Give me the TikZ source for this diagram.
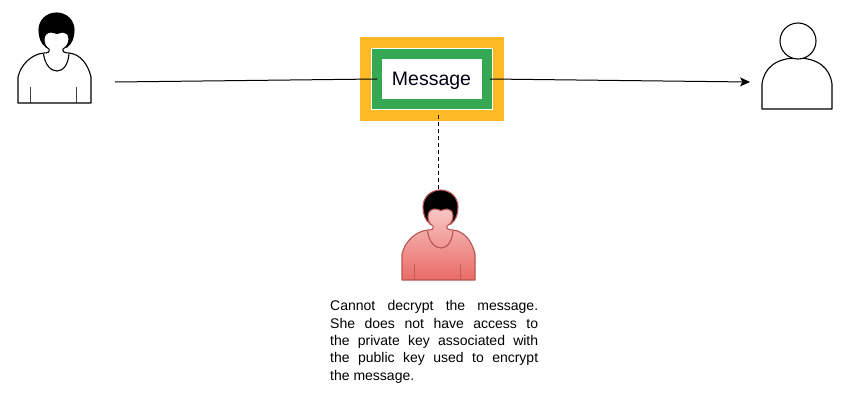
\documentclass[tikz,border=0pt]{standalone}
\usepackage{fontspec}
\setmainfont{Liberation Sans}
\usetikzlibrary{arrows.meta}
\definecolor{orangebox}{HTML}{FFB925}
\definecolor{greenbox}{HTML}{34A853}
\definecolor{eveedge}{HTML}{B85450}
\definecolor{evetop}{HTML}{F7C6C4}
\definecolor{evebottom}{HTML}{EA6B66}
\tikzset{
  x=1pt,y=-1pt,
  personline/.style={line width=1.1pt,line join=round},
  plainfill/.style={fill=white},
  evefill/.style={top color=evetop,bottom color=evebottom},
  connector/.style={line width=1pt,black},
  notetext/.style={font=\fontsize{14}{17.3}\selectfont,align=left,inner sep=0pt,anchor=north west},
  pics/woman/.style 2 args={code={
    \draw[personline,draw=#1,fill=black] (46,47) .. controls (41,43) and (39,37) .. (39,30)
      .. controls (39,20) and (47,13) .. (56.5,13) .. controls (66,13) and (74,20) .. (74,30)
      .. controls (74,37) and (72,43) .. (67,47) -- cycle;
    \path[personline,draw=#1,#2] (18,103) -- (18,77) .. controls (21,64) and (32,54) .. (44,53)
      .. controls (48,53) and (50,52) .. (49,49) .. controls (45,47) and (44,43) .. (44,39)
      .. controls (44,34) and (48,32) .. (51,32) .. controls (53,32) and (55,33) .. (57,33.5)
      .. controls (59,33) and (61,32) .. (63,32) .. controls (66,32) and (69,34) .. (69,39)
      .. controls (69,43) and (67,47) .. (63,49) .. controls (62,52) and (65,53) .. (69,53)
      .. controls (80,54) and (88,64) .. (91,77) -- (91,103) -- cycle;
    \draw[personline,draw=#1] (43.5,54) .. controls (45,65) and (51,71) .. (57,71) .. controls (63,71) and (68,65) .. (69,54);
    \draw[line width=.9pt,draw=#1,opacity=.75] (30,87) -- (30,103);
    \draw[line width=.9pt,draw=#1,opacity=.75] (76,87) -- (76,103);
  }},
}
\begin{document}
\begin{tikzpicture}
\useasboundingbox (0,0) rectangle (862,413);
\fill[white] (0,0) rectangle (862,413);

\pic (sender) at (0,0) {woman={black}{plainfill}};
\pic (eve) at (384,177) {woman={eveedge}{evefill}};

% recipient
\draw[personline,fill=white] (762,109) -- (762,84) .. controls (764,68) and (776,58) .. (797,58)
  .. controls (818,58) and (830,68) .. (832,84) -- (832,109) -- cycle;
\node[circle,draw,line width=1.1pt,fill=white,minimum size=36pt,inner sep=0pt,outer sep=0pt] (recipienthead) at (798,41) {};

% message box
\node[fill=orangebox,minimum width=144pt,minimum height=84pt,inner sep=0pt,outer sep=0pt] (frame) at (432,79) {};
\node[fill=white,minimum width=122pt,minimum height=62pt,inner sep=0pt,outer sep=0pt] (halo) at (frame.center) {};
\node[draw=greenbox,fill=white,line width=10pt,minimum width=110pt,minimum height=50pt,inner sep=0pt,outer sep=0pt] (msg) at (frame.center) {};
\node[font=\fontsize{19.5}{23}\selectfont,text=black!92!blue,inner sep=0pt] (msgtext) at (431.5,80.5) {Message};

\coordinate (start) at (115,82);
\coordinate (msgright) at (490,79);
\coordinate (finish) at (750,82);
\coordinate (dashtop) at (438,115);
\coordinate (evetopend) at (438,190);

\draw[connector] (start) -- (msg.west);
\draw[connector,-{Stealth[length=10pt,width=9pt,inset=2.5pt]}] (msgright) -- (finish);
\draw[connector,dash pattern=on 3.5pt off 3.5pt] (dashtop) -- (evetopend);

\node[notetext] (note) at (330,300.5) {%
  \makebox[208pt][s]{Cannot decrypt the message.}\\
  \makebox[208pt][s]{She does not have access to}\\
  \makebox[208pt][s]{the private key associated with}\\
  \makebox[208pt][s]{the public key used to encrypt}\\
  the message.};
\end{tikzpicture}
\end{document}
